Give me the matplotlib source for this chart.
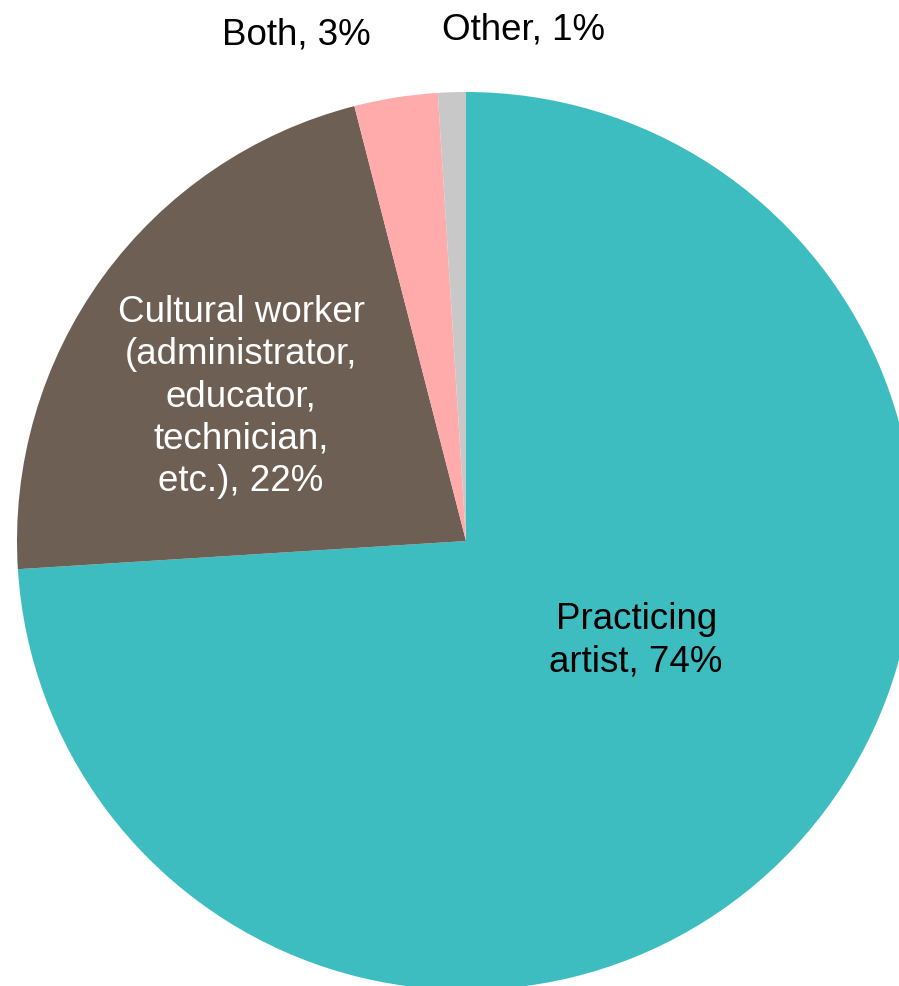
import matplotlib.pyplot as plt

labels = ['Practicing\nartist, 74%',
          'Cultural worker\n(administrator,\neducator,\ntechnician,\netc.), 22%',
          'Both, 3%', 'Other, 1%']
values = [74, 22, 3, 1]
colors = ['#3EBDC0', '#6E5F55', '#FFABAB', '#C8C8C8']
text_colors = ['black', 'white', 'black', 'black']
# label positions in data units (pie radius = 1)
label_pos = [(0.379, -0.223), (-0.501, 0.321), (-0.379, 1.127), (0.129, 1.137)]

plt.rcParams['font.family'] = ['Liberation Sans', 'DejaVu Sans']

fig = plt.figure(figsize=(8.99, 9.86), dpi=100)
# pie centre at (466, 541) px, radius 449 px
ax = fig.add_axes([(466 - 449) / 899, (986 - 541 - 449) / 986, 898 / 899, 898 / 986])
ax.pie(values, colors=colors, startangle=90, counterclock=False, radius=1,
       wedgeprops=dict(linewidth=0))
ax.set_xlim(-1, 1)
ax.set_ylim(-1, 1)
ax.set_aspect('equal')
ax.axis('off')

for lab, (x, y), c in zip(labels, label_pos, text_colors):
    ax.text(x, y, lab, ha='center', va='center', fontsize=26.5, color=c,
            linespacing=1.27, clip_on=False)

fig.savefig('out.png', dpi=100)
